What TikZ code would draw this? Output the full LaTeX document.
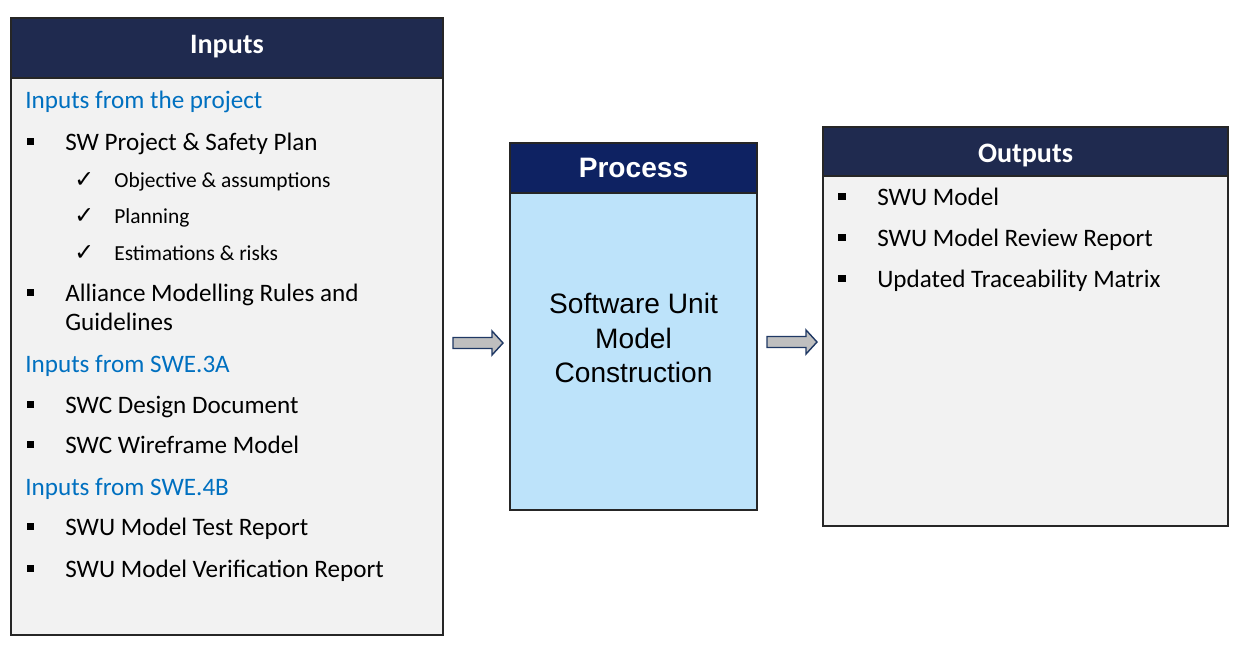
\documentclass[tikz,border=0pt]{standalone}
\usepackage{fontspec}
\setmainfont{Carlito}
\newfontfamily\arialfont{Liberation Sans}
\newfontfamily\symfont{DejaVu Sans}

\definecolor{navy}{HTML}{1F2A4F}
\definecolor{procnavy}{HTML}{0E2262}
\definecolor{panelgray}{HTML}{F2F2F2}
\definecolor{proclight}{HTML}{BDE3FA}
\definecolor{groupblue}{HTML}{0070C0}
\definecolor{arrowgray}{HTML}{BFBFBF}
\definecolor{arrowedge}{HTML}{1F3864}

\tikzset{
  panel/.style={draw=black!85, line width=0.9pt},
  headtext/.style={text=white, anchor=base, inner sep=0, font=\fontsize{16}{19}\selectfont\bfseries},
  item/.style={anchor=base west, inner sep=0, font=\fontsize{14.3}{17}\selectfont},
  subitem/.style={anchor=base west, inner sep=0, font=\fontsize{12.2}{14}\selectfont},
  group/.style={item, text=groupblue},
  tick/.style={anchor=base west, inner sep=0, font=\symfont\fontsize{13.5}{15}\selectfont},
  proctext/.style={anchor=base, inner sep=0, font=\arialfont\fontsize{16}{19}\selectfont},
  blockarrow/.style={fill=arrowgray, draw=arrowedge, line width=0.8pt, line join=miter},
}

\begin{document}
\begin{tikzpicture}[x=0.02cm, y=-0.02cm]

 \useasboundingbox (0,0) rectangle (1245,650);

 % panels
 \fill[panelgray] (11,18) rectangle (443,635);
 \fill[navy] (11,18) rectangle (443,78);
 \draw[panel] (11,18) rectangle (443,635) (11,78) -- (443,78);

 \fill[proclight] (510,143) rectangle (757,510);
 \fill[procnavy] (510,143) rectangle (757,193);
 \draw[panel] (510,143) rectangle (757,510) (510,193) -- (757,193);

 \fill[panelgray] (823,127) rectangle (1228,526);
 \fill[navy] (823,127) rectangle (1228,176);
 \draw[panel] (823,127) rectangle (1228,526) (823,176) -- (1228,176);

 % headers
 \node (inputs) [headtext] at (227,53) {Inputs};
 \node (process) [headtext, font=\arialfont\fontsize{16}{19}\selectfont\bfseries] at (633.5,177) {Process};
 \node (outputs) [headtext] at (1025.5,162) {Outputs};

 % inputs
 \foreach \y/\txt [count=\i] in {108/Inputs from the project, 372/Inputs from SWE.3A, 495/Inputs from SWE.4B}
   \node (grp\i) [group] at (25,\y) {\txt};

 \foreach \y in {150,301,413,453,535,577}
   \fill (27,\y-12) rectangle (33.5,\y-5.5);

 \foreach \y/\txt [count=\i] in {150/SW Project \& Safety Plan, 301/Alliance Modelling Rules and, 330/Guidelines,
     413/SWC Design Document, 453/SWC Wireframe Model, 535/SWU Model Test Report, 577/SWU Model Verification Report}
   \node (in\i) [item] at (65,\y) {\txt};

 \foreach \y/\txt [count=\i] in {187/Objective \& assumptions, 223/Planning, 260/Estimations \& risks} {
   \node (tick\i) [tick] at (74,\y) {✓};
   \node (sub\i) [subitem] at (114,\y) {\txt};
 }

 % process
 \foreach \y/\txt [count=\i] in {313/Software Unit, 348/Model, 382/Construction}
   \node (proc\i) [proctext] at (633.5,\y) {\txt};

 % outputs
 \foreach \y/\txt [count=\i] in {205/SWU Model, 246/SWU Model Review Report, 287/Updated Traceability Matrix} {
   \fill (838,\y-12) rectangle (845.5,\y-5.5);
   \node (out\i) [item] at (877,\y) {\txt};
 }

 % arrows
 \coordinate (inarrow) at (453,343);
 \coordinate (outarrow) at (767,342);
 \foreach \tail in {inarrow, outarrow}
   \draw[blockarrow] (\tail) ++(0,-5.5) -- ++(39,0) -- ++(0,-6.5) -- ++(11,12) -- ++(-11,12) -- ++(0,-6.5) -- ++(-39,0) -- cycle;

\end{tikzpicture}
\end{document}
